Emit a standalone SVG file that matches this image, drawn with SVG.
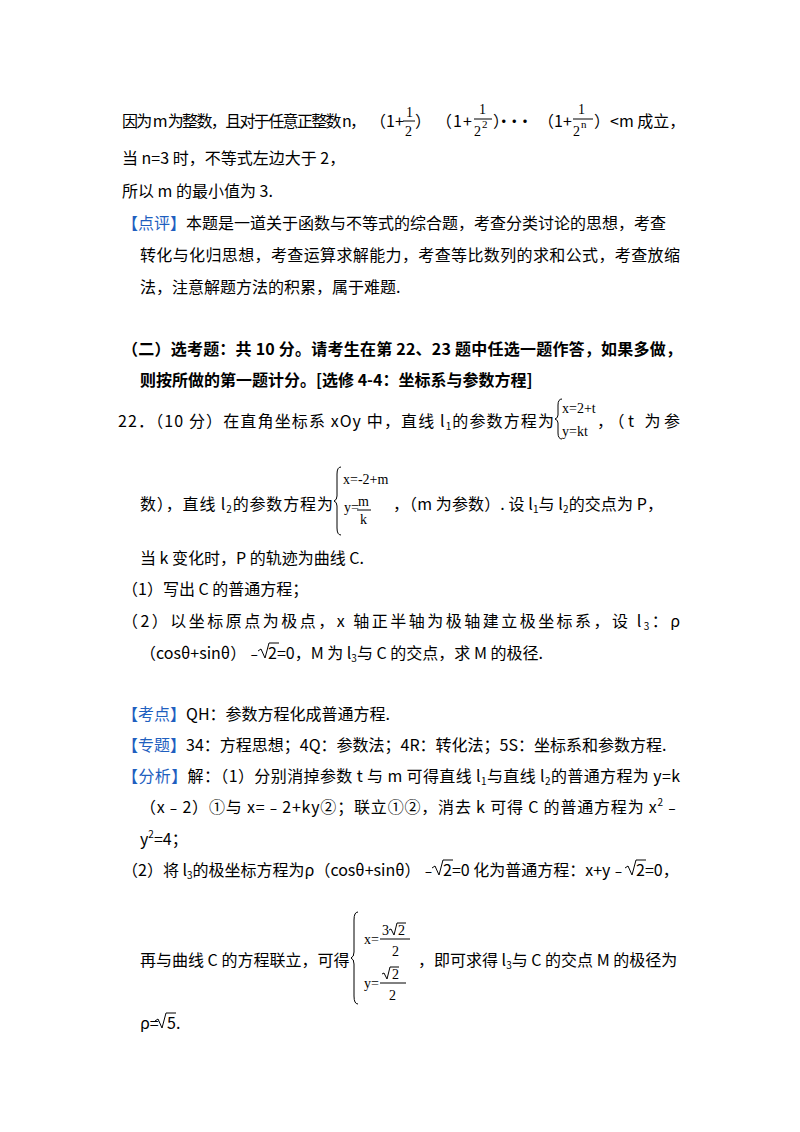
<svg xmlns="http://www.w3.org/2000/svg" width="800" height="1132" viewBox="0 0 800 1132">
<style>
text{font-family:"Noto Sans CJK SC","Noto Sans",sans-serif;font-size:16px;fill:#000}
.b{font-weight:bold}
.bl{fill:#1f5fbf}
.m{font-family:"Liberation Serif",serif;font-size:14px}
.ms{font-family:"Liberation Serif",serif;font-size:11px}
line,path{stroke:#000;fill:none;stroke-width:1}
</style>
<rect width="800" height="1132" fill="#fff"/>
<g id="p1">
<text x="122" y="127" textLength="244">因为 m 为整数，且对于任意正整数 n，</text>
<text x="370" y="127" textLength="34">（1+</text>
<text class="m" x="406" y="117">1</text><line x1="403" y1="121" x2="415" y2="121"/><text class="m" x="405" y="136">2</text>
<text x="415" y="127">）</text>
<text x="436" y="127" textLength="36">（1+</text>
<text class="m" x="479" y="114">1</text><line x1="474" y1="119" x2="492" y2="119"/><text class="m" x="474" y="136">2</text><text class="ms" x="482" y="128">2</text>
<text x="493" y="127" textLength="40">）···</text>
<text x="538" y="127" textLength="34">（1+</text>
<text class="m" x="578" y="114">1</text><line x1="573" y1="119" x2="593" y2="119"/><text class="m" x="573" y="136">2</text><text class="ms" x="581" y="128">n</text>
<text x="594" y="127">）&lt;m 成立，</text>
<text x="122" y="164">当 n=3 时，不等式左边大于 2，</text>
<text x="122" y="197">所以 m 的最小值为 3.</text>
<text x="122" y="229"><tspan class="bl">【点评】</tspan>本题是一道关于函数与不等式的综合题，考查分类讨论的思想，考查</text>
<text x="140" y="261" textLength="540">转化与化归思想，考查运算求解能力，考查等比数列的求和公式，考查放缩</text>
<text x="140" y="293">法，注意解题方法的积累，属于难题.</text>
</g>
<g id="p2">
<text class="b" x="122" y="355" textLength="560">（二）选考题：共 10 分。请考生在第 22、23 题中任选一题作答，如果多做，</text>
<text class="b" x="140" y="386">则按所做的第一题计分。[选修 4-4：坐标系与参数方程]</text>
<text x="118" y="427" textLength="436">22．（10 分）在直角坐标系 xOy 中，直线 l<tspan font-size="10" dy="3">1</tspan><tspan dy="-3">的参数方程为</tspan></text>
<path d="M562 399 q-4 0 -4 6 v10 q0 3 -3 4 q3 1 3 4 v10 q0 6 4 6"/>
<text class="m" x="562" y="413">x=2+t</text><text class="m" x="562" y="436">y=kt</text>
<text x="597" y="427" textLength="83">，（t 为参</text>
<text x="140" y="510" textLength="193">数），直线 l<tspan font-size="10" dy="3">2</tspan><tspan dy="-3">的参数方程为</tspan></text>
<path d="M341 467 q-4 0 -4 7 v22 q0 4 -3 5 q3 1 3 5 v22 q0 7 4 7"/>
<text class="m" x="343" y="484">x=-2+m</text>
<text class="m" x="344" y="512">y=</text><text class="m" x="358" y="506">m</text><line x1="357" y1="510" x2="371" y2="510"/><text class="m" x="360" y="524">k</text>
<text x="393" y="510" textLength="270">，（m 为参数）. 设 l<tspan font-size="10" dy="3">1</tspan><tspan dy="-3">与 l</tspan><tspan font-size="10" dy="3">2</tspan><tspan dy="-3">的交点为 P，</tspan></text>
<text x="140" y="564">当 k 变化时，P 的轨迹为曲线 C.</text>
<text x="122" y="595">（1）写出 C 的普通方程；</text>
<text x="122" y="627" textLength="558">（2）以坐标原点为极点，x 轴正半轴为极轴建立极坐标系，设 l<tspan font-size="10" dy="3">3</tspan><tspan dy="-3">：ρ</tspan></text>
<text x="140" y="659">（cosθ+sinθ）﹣</text>
<path d="M258 651 l3 -2 l4 9 l4 -15 h10"/>
<text x="268" y="659">2=0，M 为 l<tspan font-size="10" dy="3">3</tspan><tspan dy="-3">与 C 的交点，求 M 的极径.</tspan></text>
</g>
<g id="p3">
<text x="122" y="720"><tspan class="bl">【考点】</tspan>QH：参数方程化成普通方程.</text>
<text x="122" y="751"><tspan class="bl">【专题】</tspan>34：方程思想；4Q：参数法；4R：转化法；5S：坐标系和参数方程.</text>
<text x="122" y="782" textLength="558"><tspan class="bl">【分析】</tspan>解：（1）分别消掉参数 t 与 m 可得直线 l<tspan font-size="10" dy="3">1</tspan><tspan dy="-3">与直线 l</tspan><tspan font-size="10" dy="3">2</tspan><tspan dy="-3">的普通方程为 y=k</tspan></text>
<text x="140" y="813" textLength="540">（x﹣2）①与 x=﹣2+ky②；联立①②，消去 k 可得 C 的普通方程为 x<tspan font-size="10" dy="-7">2</tspan><tspan dy="7">﹣</tspan></text>
<text x="140" y="845">y<tspan font-size="10" dy="-7">2</tspan><tspan dy="7">=4；</tspan></text>
<text x="122" y="876">（2）将 l<tspan font-size="10" dy="3">3</tspan><tspan dy="-3">的极坐标方程为ρ（cosθ+sinθ）﹣</tspan></text>
<path d="M432 868 l3 -2 l4 9 l4 -15 h10"/>
<text x="443" y="876">2=0 化为普通方程：x+y﹣</text>
<path d="M625 868 l3 -2 l4 9 l4 -15 h10"/>
<text x="636" y="876">2=0，</text>
<text x="140" y="966">再与曲线 C 的方程联立，可得</text>
<path d="M358 912 q-4 0 -4 8 v32 q0 5 -3 6 q3 1 3 6 v32 q0 8 4 8"/>
<text class="m" x="364" y="944">x=</text>
<text class="m" x="382" y="935">3</text><path d="M389 930 l2 -1 l3 6 l3 -12 h9"/><text class="m" x="398" y="935">2</text>
<line x1="380" y1="939" x2="410" y2="939"/><text class="m" x="392" y="956">2</text>
<text class="m" x="364" y="988">y=</text>
<path d="M382 974 l2 -1 l3 6 l3 -12 h9"/><text class="m" x="392" y="979">2</text>
<line x1="380" y1="983" x2="406" y2="983"/><text class="m" x="389" y="1000">2</text>
<text x="418" y="966">，即可求得 l<tspan font-size="10" dy="3">3</tspan><tspan dy="-3">与 C 的交点 M 的极径为</tspan></text>
<text x="140" y="1029">ρ=</text>
<path d="M155 1021 l3 -2 l4 9 l4 -15 h10"/>
<text x="167" y="1029">5.</text>
</g>
</svg>
